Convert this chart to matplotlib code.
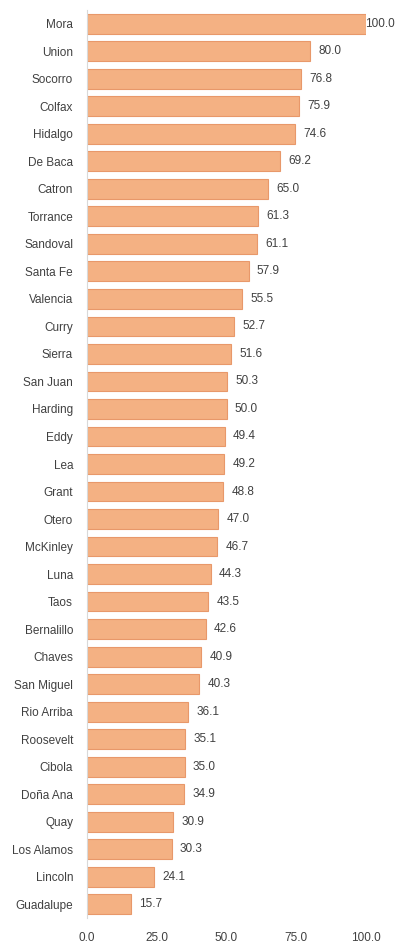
import matplotlib
matplotlib.use("Agg")
import matplotlib.pyplot as plt

counties = ["Mora", "Union", "Socorro", "Colfax", "Hidalgo", "De Baca", "Catron",
            "Torrance", "Sandoval", "Santa Fe", "Valencia", "Curry", "Sierra",
            "San Juan", "Harding", "Eddy", "Lea", "Grant", "Otero", "McKinley",
            "Luna", "Taos", "Bernalillo", "Chaves", "San Miguel", "Rio Arriba",
            "Roosevelt", "Cibola", "Doña Ana", "Quay", "Los Alamos", "Lincoln",
            "Guadalupe"]
values = [100.0, 80.0, 76.8, 75.9, 74.6, 69.2, 65.0, 61.3, 61.1, 57.9, 55.5, 52.7,
          51.6, 50.3, 50.0, 49.4, 49.2, 48.8, 47.0, 46.7, 44.3, 43.5, 42.6, 40.9,
          40.3, 36.1, 35.1, 35.0, 34.9, 30.9, 30.3, 24.1, 15.7]
xticks = [0, 25, 50, 75, 100]

plt.rcParams['font.family'] = ['Liberation Sans', 'DejaVu Sans']
fig = plt.figure(figsize=(3.97, 9.48), dpi=100)
ax = fig.add_axes([87/397, 1-918/948, 279/397, 908/948])

fs = 8.5
pos = list(range(len(counties)))
ax.barh(pos, values, height=0.72, color="#F4B183", edgecolor="#E8986A", linewidth=0.8)
ax.set_ylim(32.5, -0.5)
ax.set_xlim(0, 100)
ax.set_yticks(pos)
ax.set_yticklabels(counties, fontsize=fs, color="#404040")
ax.set_xticks(xticks)
ax.set_xticklabels([f"{t:.1f}" for t in xticks], fontsize=fs, color="#404040")
ax.tick_params(axis='y', length=0, pad=10)
ax.tick_params(axis='x', length=0, pad=10)
for s in ["top", "right", "bottom"]:
    ax.spines[s].set_visible(False)
ax.spines["left"].set_color("#D9D9D9")
ax.spines["left"].set_linewidth(0.8)

vmax = max(values)
for p, v in zip(pos, values):
    off = -1 if v == vmax else 6
    ax.annotate(f"{v:.1f}", (v, p), xytext=(off, 0), textcoords="offset points",
                va="center", ha="left", fontsize=fs, color="#404040", clip_on=False)

fig.savefig("out.png", dpi=100)
